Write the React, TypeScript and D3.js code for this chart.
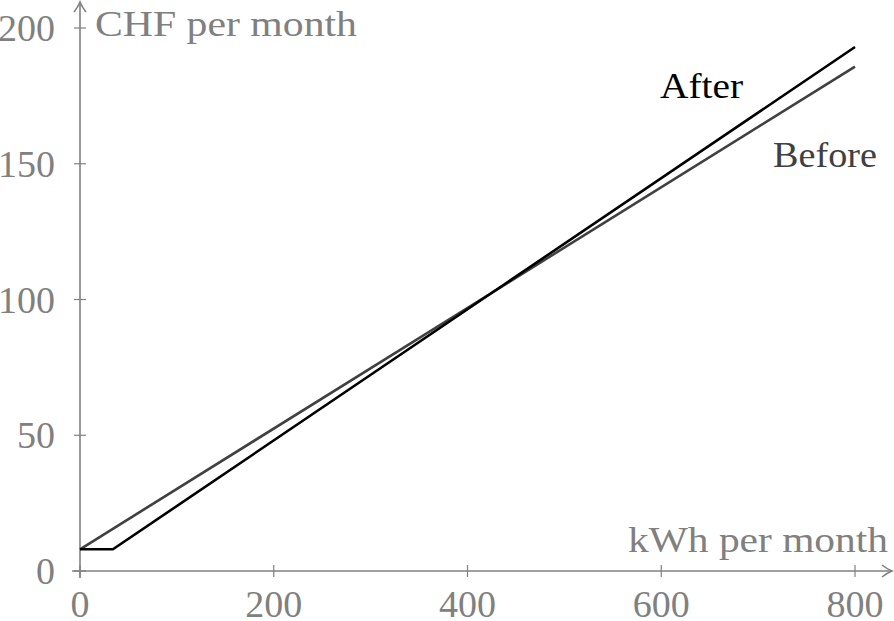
import React from "react";
import * as d3 from "d3";

// kWh per month -> CHF per month
const beforeX = [0, 800];
const beforeY = [8, 185.8];
const afterX = [0, 34, 800];
const afterY = [8, 8, 193];
const xTicks = [0, 200, 400, 600, 800];
const yTicks = [0, 50, 100, 150, 200];

const W = 894;
const H = 621;
const GREY = "#808080";
const FONT = "'Liberation Serif', 'DejaVu Serif', serif";

const App = () => {
  const x = d3.scaleLinear().domain([0, 800]).range([80, 855]);
  const y = d3.scaleLinear().domain([0, 200]).range([571, 28]);

  const line = d3
    .line<[number, number]>()
    .x((d) => x(d[0]))
    .y((d) => y(d[1]));

  const before = beforeX.map((v, i) => [v, beforeY[i]] as [number, number]);
  const after = afterX.map((v, i) => [v, afterY[i]] as [number, number]);

  const x0 = x(0);
  const y0 = y(0);

  return (
    <svg
      width={W}
      height={H}
      style={{ position: "absolute", left: 0, top: 0, background: "#fff" }}
      fontFamily={FONT}
    >
      {/* axes */}
      <g stroke={GREY} strokeWidth={1.6} fill="none">
        <line x1={x0 - 8} x2={W - 3} y1={y0} y2={y0} />
        <line x1={x0} x2={x0} y1={y0 + 7} y2={2} />
        <path d={`M${W - 12},${y0 - 6} Q${W - 7},${y0 - 2} ${W - 2},${y0} Q${W - 7},${y0 + 2} ${W - 12},${y0 + 6}`} />
        <path d={`M${x0 - 6},${12} Q${x0 - 2},${7} ${x0},${2} Q${x0 + 2},${7} ${x0 + 6},${12}`} />
      </g>

      {/* x ticks */}
      {xTicks.map((t) => (
        <g key={"x" + t} transform={`translate(${x(t)},${y0})`}>
          <line y1={-6} y2={6} stroke={GREY} strokeWidth={1.2} />
          <text y={46} textAnchor="middle" fill={GREY} fontSize={38}>
            {t}
          </text>
        </g>
      ))}

      {/* y ticks */}
      {yTicks.map((t) => (
        <g key={"y" + t} transform={`translate(${x0},${y(t)})`}>
          <line x1={-6} x2={6} stroke={GREY} strokeWidth={1.2} />
          <text x={-25} y={13} textAnchor="end" fill={GREY} fontSize={38}>
            {t}
          </text>
        </g>
      ))}

      {/* axis titles */}
      <text x={95} y={36} fill={GREY} fontSize={36} textLength={262} lengthAdjust="spacingAndGlyphs">
        CHF per month
      </text>
      <text x={628} y={552} fill={GREY} fontSize={36} textLength={260} lengthAdjust="spacingAndGlyphs">
        kWh per month
      </text>

      {/* series */}
      <path d={line(before) || ""} fill="none" stroke="#404040" strokeWidth={2.6} />
      <path d={line(after) || ""} fill="none" stroke="#000" strokeWidth={2.6} strokeLinejoin="round" />

      <text x={660} y={98} fill="#000" fontSize={36} textLength={83} lengthAdjust="spacingAndGlyphs">
        After
      </text>
      <text x={773} y={167} fill="#404040" fontSize={36} textLength={104} lengthAdjust="spacingAndGlyphs">
        Before
      </text>
    </svg>
  );
};

export default App;
